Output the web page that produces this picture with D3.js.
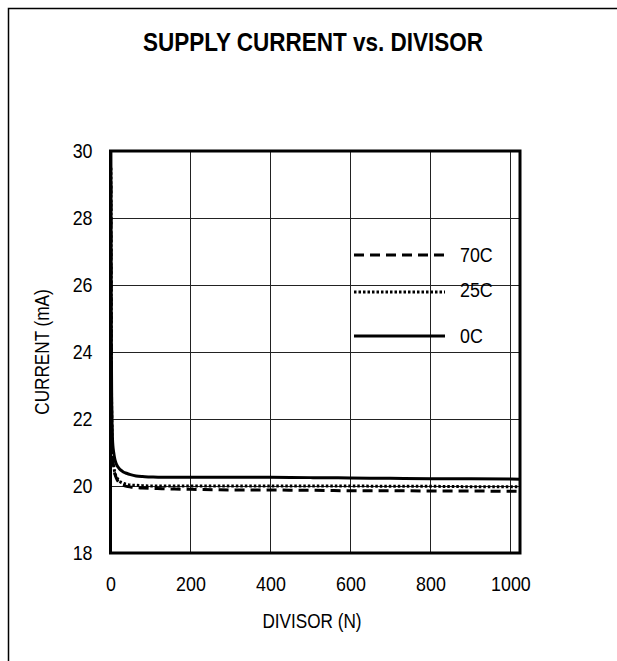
<!DOCTYPE html>
<html><head><meta charset="utf-8">
<script src="https://cdn.jsdelivr.net/npm/d3@7"></script>
<style>
html,body{margin:0;padding:0;background:#fff;}
text{font-family:"Liberation Sans",Arial,sans-serif;fill:#000;}
</style></head>
<body>
<svg id="c" width="617" height="661"></svg>
<script>
const divisor = [1,2,3,4,5,6,8,10,12,16,20,25,32,40,50,64,80,100,128,160,200,256,300,400,500,512,600,700,800,900,1000,1024];
const current0C  = [30.0,24.5,22.6,21.8,21.4,21.2,21.0,20.85,20.75,20.62,20.55,20.48,20.42,20.38,20.34,20.30,20.28,20.27,20.26,20.26,20.26,20.26,20.26,20.26,20.25,20.25,20.24,20.23,20.22,20.22,20.21,20.20];
const current25C = [29.5,24.0,22.2,21.4,21.0,20.8,20.6,20.45,20.35,20.25,20.18,20.12,20.08,20.05,20.03,20.02,20.01,20.0,20.0,20.0,20.0,20.0,20.0,20.0,20.0,20.0,20.0,19.99,19.99,19.98,19.98,19.98];
const current70C = [29.0,23.8,22.0,21.2,20.85,20.75,20.55,20.4,20.32,20.2,20.12,20.06,20.02,19.99,19.97,19.95,19.94,19.93,19.92,19.91,19.9,19.89,19.88,19.88,19.87,19.87,19.86,19.86,19.85,19.85,19.84,19.84];
const xTicks = [0,200,400,600,800,1000];
const yTicks = [18,20,22,24,26,28,30];
const seriesNames = ["70C","25C","0C"];

const svg = d3.select("#c");
// condense text horizontally (narrow face)
function condense(sel,k){
  sel.each(function(){
    const t=d3.select(this);
    const xx=+(t.attr("x")||0);
    const yy=+(t.attr("y")||0);
    t.attr("x",xx/k).attr("y",yy).attr("transform",(t.attr("transform")||"")+` scale(${k},1)`);
  });
}
// outer border
svg.append("path").attr("d","M8.5,661 V8.5 H617").attr("fill","none").attr("stroke","#000").attr("stroke-width",1.5);

const L=110.5, R=520, T=151, B=553;
const x = d3.scaleLinear().domain([0,1024]).range([L,R]);
const y = d3.scaleLinear().domain([18,30]).range([B,T]);

// grid
const g = svg.append("g");
g.selectAll(".vg").data(xTicks.filter(d=>d>0)).join("line")
 .attr("x1",d=>Math.round(x(d))+0.5).attr("x2",d=>Math.round(x(d))+0.5).attr("y1",T).attr("y2",B)
 .attr("stroke","#222").attr("stroke-width",1);
g.selectAll(".hg").data(yTicks.filter(d=>d>18&&d<30)).join("line")
 .attr("y1",d=>Math.round(y(d))+0.5).attr("y2",d=>Math.round(y(d))+0.5).attr("x1",L).attr("x2",R)
 .attr("stroke","#222").attr("stroke-width",1);

// axes labels via d3 axis
const xa = svg.append("g").attr("transform",`translate(0,${B})`)
 .call(d3.axisBottom(x).tickValues(xTicks).tickFormat(d3.format("d")).tickSize(0).tickPadding(23));
xa.select(".domain").remove();
xa.selectAll("text").attr("font-size",21).attr("font-family",null);
condense(xa.selectAll("text"),0.85);
const ya = svg.append("g").attr("transform",`translate(${L},0)`)
 .call(d3.axisLeft(y).tickValues(yTicks).tickSize(0).tickPadding(18));
ya.select(".domain").remove();
ya.selectAll("text").attr("font-size",21).attr("font-family",null);
condense(ya.selectAll("text"),0.85);

// lines
const styles = {"70C":{dash:"10,6",w:3},"25C":{dash:"2.5,2",w:3},"0C":{dash:null,w:3}};
const dataBy = {"70C":current70C,"25C":current25C,"0C":current0C};
const line = d3.line().x((d,i)=>x(divisor[i])).y(d=>y(d)).curve(d3.curveMonotoneX);
seriesNames.forEach(n=>{
  svg.append("path").datum(dataBy[n]).attr("d",line).attr("fill","none")
   .attr("stroke","#000").attr("stroke-width",styles[n].w)
   .attr("stroke-dasharray",styles[n].dash);
});

// frame
svg.append("rect").attr("x",L).attr("y",T).attr("width",R-L).attr("height",B-T)
 .attr("fill","none").attr("stroke","#000").attr("stroke-width",3);

// legend
const legY = [255,292,336];
seriesNames.forEach((n,i)=>{
  svg.append("line").attr("x1",354).attr("x2",445).attr("y1",legY[i]).attr("y2",legY[i])
   .attr("stroke","#000").attr("stroke-width",3).attr("stroke-dasharray",styles[n].dash);
  const t=svg.append("text").attr("x",460).attr("y",legY[i]+ (i==1?-2:0)).attr("dy","0.35em")
   .attr("font-size",21).text(n);
  condense(t,0.85);
});

// titles
condense(svg.append("text").attr("x",313).attr("y",42).attr("dy","0.35em").attr("text-anchor","middle")
 .attr("font-size",25).attr("font-weight","bold").text("SUPPLY CURRENT vs. DIVISOR"),0.9);
condense(svg.append("text").attr("x",312).attr("y",621).attr("dy","0.35em").attr("text-anchor","middle")
 .attr("font-size",19.5).text("DIVISOR (N)"),0.88);
svg.append("text").attr("transform","translate(42,352) rotate(-90) scale(0.88,1)").attr("dy","0.35em").attr("text-anchor","middle")
 .attr("font-size",19.5).text("CURRENT (mA)");
</script>
</body></html>
